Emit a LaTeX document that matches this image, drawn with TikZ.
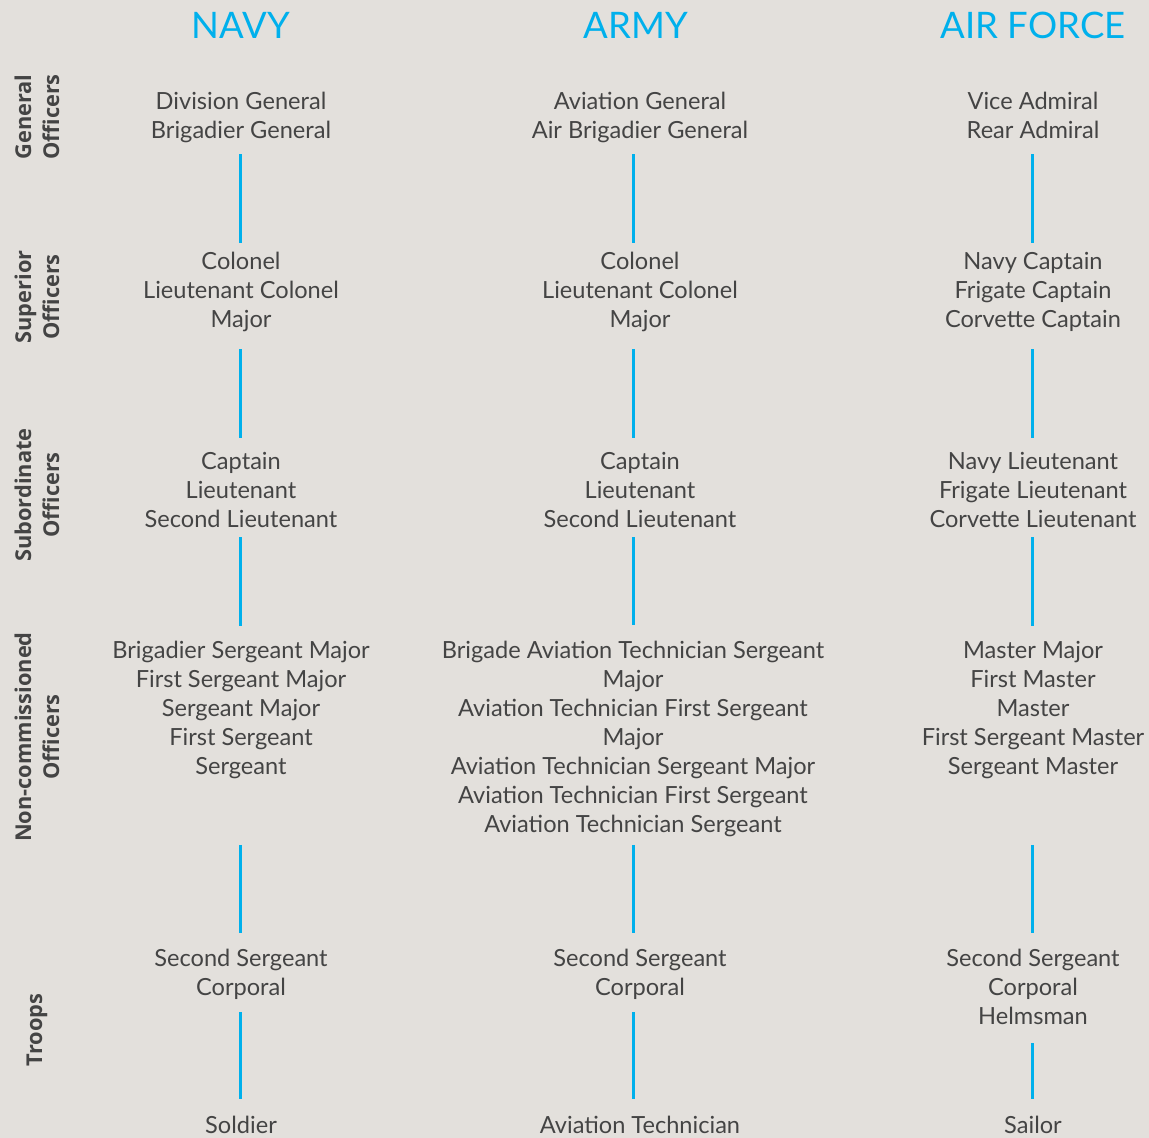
\documentclass[tikz,border=0pt]{standalone}
\usepackage{fontspec}
\setmainfont{Lato}
\newfontfamily\sidefont{Open Sans}
\definecolor{bg}{RGB}{227,224,220}
\definecolor{cy}{RGB}{0,176,236}
\definecolor{tx}{RGB}{68,68,68}
\begin{document}
\begin{tikzpicture}[x=1pt,y=-1pt,
 rankbase/.style={align=center, inner sep=0pt, text=tx, font=\fontsize{23.6}{29}\selectfont},
 rank/.style={rankbase, execute at begin node=\strut, execute at end node=\strut},
 lastrank/.style={rankbase, anchor=base},
 head/.style={text=cy, inner sep=0pt, font=\fontsize{36.5}{40}\selectfont},
 side/.style={rotate=90, align=center, inner sep=0pt, text=tx, font=\sidefont\bfseries\fontsize{21.8}{28}\selectfont},
 conn/.style={draw=cy, line width=3pt}]
\fill[bg] (0,0) rectangle (1149,1138);
\useasboundingbox (0,0) rectangle (1149,1138);
\coordinate (cN) at (240,0);
\coordinate (cA) at (633,0);
\coordinate (cF) at (1032,0);
% headers
\node[head] (hN) at (241,25) {NAVY};
\node[head] (hA) at (636,25) {ARMY};
\node[head] (hF) at (1033,25) {AIR FORCE};
% side labels
\node[side] (s1) at (37,117) {General\\Officers};
\node[side] (s2) at (37,297) {Superior\\Officers};
\node[side] (s3) at (37,495) {Subordinate\\Officers};
\node[side] (s4) at (37,737) {Non-commissioned\\Officers};
\node[side] (s5) at (37,1030) {Troops};
% navy
\node[rank] (n1) at (241,120) {Division General\\Brigadier General};
\node[rank] (n2) at (241,294.5) {Colonel\\Lieutenant Colonel\\Major};
\node[rank] (n3) at (241,494.5) {Captain\\Lieutenant\\Second Lieutenant};
\node[rank] (n4) at (241,712.5) {Brigadier Sergeant Major\\First Sergeant Major\\Sergeant Major\\First Sergeant\\Sergeant};
\node[rank] (n5) at (241,977) {Second Sergeant\\Corporal};
\node[lastrank] (n6) at (241,1133.5) {Soldier};
% army
\node[rank] (a1) at (640,120) {Aviation General\\Air Brigadier General};
\node[rank] (a2) at (640,294.5) {Colonel\\Lieutenant Colonel\\Major};
\node[rank] (a3) at (640,494.5) {Captain\\Lieutenant\\Second Lieutenant};
\node[rank] (a4) at (633,741) {Brigade Aviation Technician Sergeant\\Major\\Aviation Technician First Sergeant\\Major\\Aviation Technician Sergeant Major\\Aviation Technician First Sergeant\\Aviation Technician Sergeant};
\node[rank] (a5) at (640,977) {Second Sergeant\\Corporal};
\node[lastrank] (a6) at (640,1133.5) {Aviation Technician};
% air force
\node[rank] (f1) at (1033,120) {Vice Admiral\\Rear Admiral};
\node[rank] (f2) at (1033,294.5) {Navy Captain\\Frigate Captain\\Corvette Captain};
\node[rank] (f3) at (1033,494.5) {Navy Lieutenant\\Frigate Lieutenant\\Corvette Lieutenant};
\node[rank] (f4) at (1033,712.5) {Master Major\\First Master\\Master\\First Sergeant Master\\Sergeant Master};
\node[rank] (f5) at (1033,991.5) {Second Sergeant\\Corporal\\Helmsman};
\node[lastrank] (f6) at (1033,1133.5) {Sailor};
% connectors
\foreach \c/\p in {cN/n, cA/a, cF/f}{
  \draw[conn, shorten <=6.5pt, shorten >=9.5pt] (\p1.south -| \c) -- (\p2.north -| \c);
  \draw[conn, shorten <=12.5pt, shorten >=14.5pt] (\p2.south -| \c) -- (\p3.north -| \c);
  \draw[conn, shorten <=0.5pt, shorten >=15.5pt] (\p3.south -| \c) -- (\p4.north -| \c);
  \draw[conn, shorten <=3.5pt, shorten >=16.5pt] (a4.south -| \c) -- (\p5.north -| \c);
}
\draw[conn, shorten <=7.5pt, shorten >=17pt] (n5.south -| cN) -- (n6.north -| cN);
\draw[conn, shorten <=7.5pt, shorten >=17pt] (a5.south -| cA) -- (a6.north -| cA);
\draw[conn, shorten <=9.5pt, shorten >=17pt] (f5.south -| cF) -- (f6.north -| cF);
\end{tikzpicture}
\end{document}
